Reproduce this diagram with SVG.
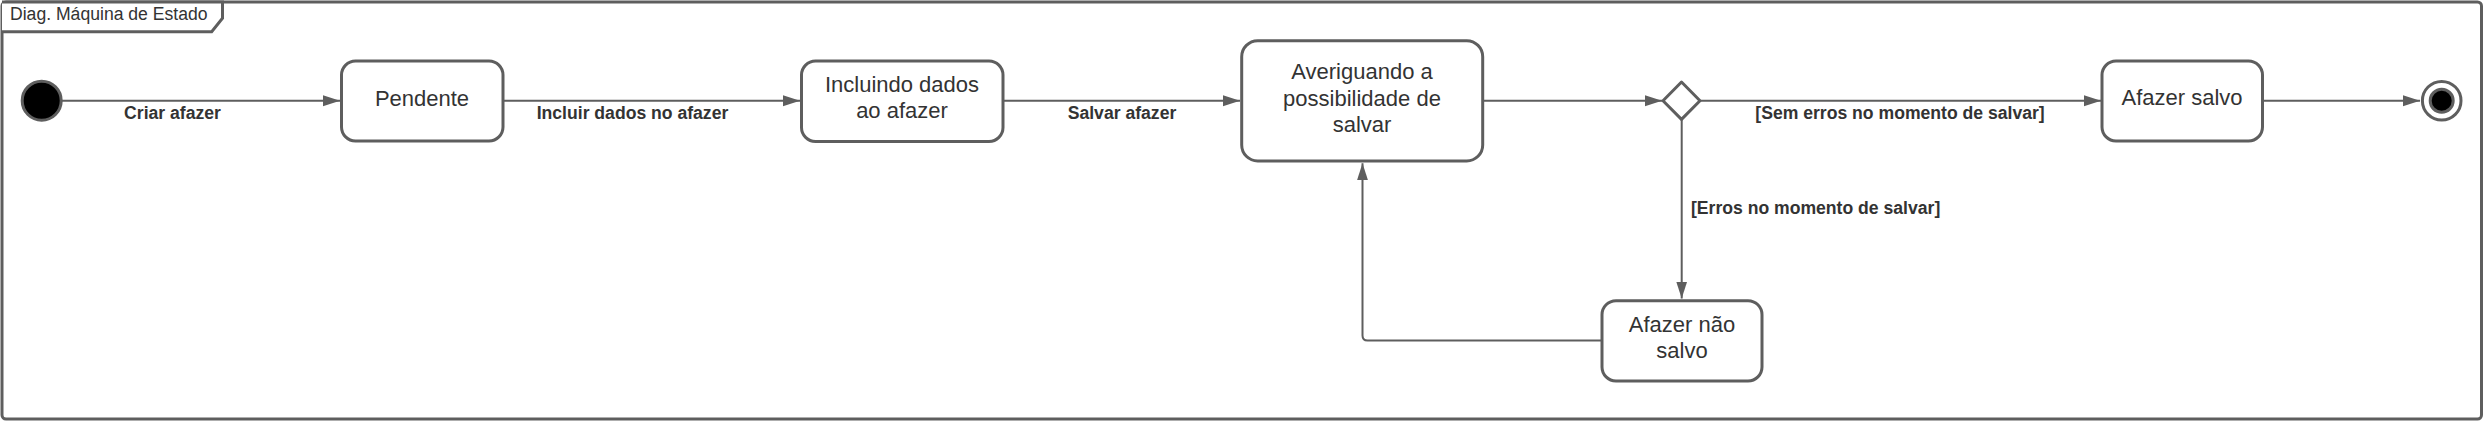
<svg xmlns="http://www.w3.org/2000/svg" width="2483" height="423" viewBox="0 0 2483 423">
<style>
.box{fill:#ffffff;stroke:#5e5e5e;stroke-width:3}
.edge{fill:none;stroke:#5e5e5e;stroke-width:2;marker-end:url(#arr)}
.nt{font-family:"Liberation Sans",Arial,sans-serif;font-size:22px;fill:#333333;text-anchor:middle}
.lbl{font-family:"Liberation Sans",Arial,sans-serif;font-size:17.6px;font-weight:bold;fill:#333333;text-anchor:middle}
.title{font-family:"Liberation Sans",Arial,sans-serif;font-size:17.6px;fill:#333333}
</style>
<defs>
<marker id="arr" markerUnits="userSpaceOnUse" markerWidth="18" markerHeight="12" refX="17" refY="5.5" orient="auto">
<path d="M0,0 L17,5.5 L0,11 Z" fill="#5e5e5e"/>
</marker>
</defs>
<rect width="2483" height="423" fill="#ffffff"/>
<g id="frame">
<rect x="2" y="2" width="2479.5" height="417" rx="4" fill="#ffffff" stroke="#5e5e5e" stroke-width="3"/>
<path d="M2,2 H222.5 V18.3 L211.7,31.7 H2" fill="#ffffff" stroke="#5e5e5e" stroke-width="3"/>
<text class="title" x="10" y="19.5">Diag. Máquina de Estado</text>
</g>
<g id="connectors">
<line class="edge" x1="62" y1="100.7" x2="340" y2="100.7"/>
<line class="edge" x1="503" y1="100.7" x2="800" y2="100.7"/>
<line class="edge" x1="1003" y1="100.7" x2="1240" y2="100.7"/>
<line class="edge" x1="1483" y1="100.7" x2="1662" y2="100.7"/>
<line class="edge" x1="1700.5" y1="100.7" x2="2101" y2="100.7"/>
<line class="edge" x1="2263" y1="100.7" x2="2420" y2="100.7"/>
<line class="edge" x1="1681.7" y1="119.5" x2="1681.7" y2="298.5"/>
<path class="edge" d="M1602,340.5 H1367.5 Q1362.5,340.5 1362.5,335.5 V163.3"/>
<text class="lbl" x="172.5" y="119">Criar afazer</text>
<text class="lbl" x="632.5" y="119.3">Incluir dados no afazer</text>
<text class="lbl" x="1122" y="119.3">Salvar afazer</text>
<text class="lbl" x="1900" y="119.3">[Sem erros no momento de salvar]</text>
<text class="lbl" x="1815.6" y="214">[Erros no momento de salvar]</text>
</g>
<g id="start">
<circle cx="41.7" cy="100.7" r="19.5" fill="#000000" stroke="#5e5e5e" stroke-width="3"/>
</g>
<g id="pendente">
<rect class="box" x="341.5" y="61" width="161.5" height="80" rx="14"/>
<text class="nt" x="422" y="106">Pendente</text>
</g>
<g id="incluindo">
<rect class="box" x="801.5" y="61" width="201.5" height="80.5" rx="14"/>
<text class="nt" x="902" y="91.7">Incluindo dados</text>
<text class="nt" x="902" y="118.3">ao afazer</text>
</g>
<g id="averiguando">
<rect class="box" x="1241.7" y="40.7" width="241" height="120.3" rx="16"/>
<text class="nt" x="1362" y="79.3">Averiguando a</text>
<text class="nt" x="1362" y="106">possibilidade de</text>
<text class="nt" x="1362" y="131.7">salvar</text>
</g>
<g id="decisao">
<path d="M1681.5,82 L1700,100.7 L1681.5,119.4 L1663,100.7 Z" fill="#ffffff" stroke="#5e5e5e" stroke-width="3" stroke-linejoin="round"/>
</g>
<g id="salvo">
<rect class="box" x="2102" y="61" width="160.5" height="80" rx="14"/>
<text class="nt" x="2182" y="105">Afazer salvo</text>
</g>
<g id="naosalvo">
<rect class="box" x="1602" y="300.7" width="160" height="80.3" rx="14"/>
<text class="nt" x="1682" y="331.7">Afazer não</text>
<text class="nt" x="1682" y="358.3">salvo</text>
</g>
<g id="final">
<circle cx="2441.7" cy="100.7" r="19.3" fill="#ffffff" stroke="#5e5e5e" stroke-width="3"/>
<circle cx="2441.7" cy="100.7" r="11.5" fill="#000000" stroke="#5e5e5e" stroke-width="3"/>
</g>
</svg>
